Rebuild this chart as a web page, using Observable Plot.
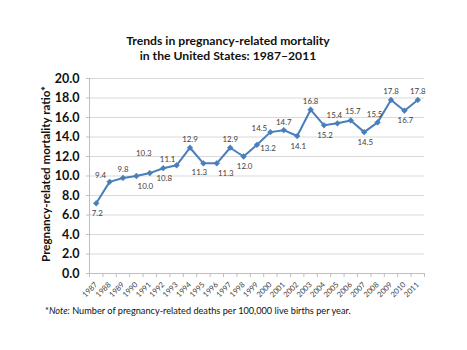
<!DOCTYPE html>
<html><head><meta charset="utf-8">
<script src="https://cdn.jsdelivr.net/npm/d3@7"></script>
<script src="https://cdn.jsdelivr.net/npm/@observablehq/plot@0.6"></script>
<style>
body{margin:0;background:#fff;width:467px;height:350px;position:relative;overflow:hidden;font-family:Lato,"Open Sans",sans-serif;}
#title{position:absolute;left:0;width:456px;top:33px;text-align:center;font-weight:bold;font-size:12.2px;line-height:15px;color:#111;}
#chart{position:absolute;left:0;top:66px;}
#note{position:absolute;left:45px;top:305px;font-size:9.2px;color:#111;white-space:nowrap;}
</style></head>
<body>
<div id="title">Trends in pregnancy-related mortality<br>in the United States: 1987–2011</div>
<div id="chart"></div>
<div id="note">*<i>Note:</i> Number of pregnancy-related deaths per 100,000 live births per year.</div>
<script>
const years = [1987,1988,1989,1990,1991,1992,1993,1994,1995,1996,1997,1998,1999,2000,2001,2002,2003,2004,2005,2006,2007,2008,2009,2010,2011];
const ratios = [7.2,9.4,9.8,10.0,10.3,10.8,11.1,12.9,11.3,11.3,12.9,12.0,13.2,14.5,14.7,14.1,16.8,15.2,15.4,15.7,14.5,15.5,17.8,16.7,17.8];
const labelSide = ["below","aboveLeft","above","belowRight","aboveFar","below","aboveLeft","above","belowLeft","belowRight","above","below","right","left","above","below","above","below","aboveL","aboveR","below","aboveL","above","below","above"];
const yTicks = [0,2,4,6,8,10,12,14,16,18,20];
const yTitle = "Pregnancy-related mortality ratio*";

const data = years.map((y,i)=>({year:y, value:ratios[i], side:labelSide[i]}));
const bounds = years.map(y=>y-0.5).concat([years[years.length-1]+0.5]);
const xDomain = [bounds[0], bounds[bounds.length-1]];
const blue = "#4a7ebb";
const grid = "#d9d9d9";
const axisGray = "#bfbfbf";
const labelStyle = {fontSize:7.9, fill:"#404040", fontFamily:"Lato, sans-serif"};
const offs = {
  above:[0,-8], aboveL:[-3,-8], aboveR:[2,-9], aboveLeft:[-9,-6], aboveFar:[-6,-20],
  below:[1,10], belowRight:[9,10], belowLeft:[-4,9], right:[11,4], left:[-11,-4]
};

const chart = Plot.plot({
  width:467, height:238,
  marginLeft:89, marginRight:43, marginTop:12, marginBottom:31,
  style:{fontFamily:"Lato, sans-serif", background:"transparent"},
  x:{type:"linear", domain:xDomain, axis:null},
  y:{type:"linear", domain:[0,20], axis:null},
  marks:[
    Plot.ruleY(yTicks.filter(t=>t>0), {y:d=>d, stroke:grid, strokeWidth:1, x1:xDomain[0], x2:xDomain[1]}),
    Plot.axisY(yTicks, {tickSize:3, stroke:axisGray, tickPadding:7, tickFormat:d=>d.toFixed(1), fontSize:12.5, fontWeight:"bold", fill:"#111", label:null}),
    Plot.ruleX([xDomain[0]], {x:d=>d, stroke:axisGray, y1:0, y2:20}),
    Plot.ruleY([0], {y:d=>d, stroke:axisGray, x1:xDomain[0], x2:xDomain[1]}),
    Plot.ruleX(bounds, {x:d=>d, y1:0, y2:0, insetBottom:-4, stroke:axisGray}),
    Plot.axisX(years, {tickSize:0, tickPadding:10, tickRotate:-45, fontSize:7.6, fill:"#404040", tickFormat:d=>String(d), label:null}),
    Plot.line(data, {x:"year", y:"value", stroke:blue, strokeWidth:2}),
    Plot.dot(data, {x:"year", y:"value", symbol:"square", rotate:45, r:2.3, fill:blue, stroke:blue, strokeWidth:0.5}),
    ...Object.entries(offs).map(([k,[dx,dy]])=>Plot.text(data.filter(d=>d.side===k), {x:"year", y:"value", text:d=>d.value.toFixed(1), dx, dy, ...labelStyle}))
  ]
});
document.getElementById("chart").appendChild(chart);

const svg = d3.select(chart);
svg.append("text")
  .attr("transform","translate(50,"+(12+96)+") rotate(-90)")
  .attr("text-anchor","middle")
  .attr("font-weight","bold").attr("font-size","11.6px").attr("fill","#111")
  .attr("font-family","Lato, sans-serif")
  .text(yTitle);
</script>
</body></html>
